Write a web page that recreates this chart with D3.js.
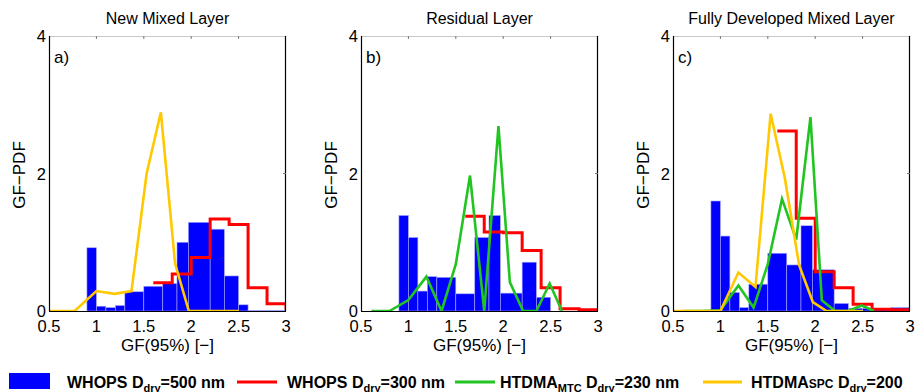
<!DOCTYPE html>
<html>
<head>
<meta charset="utf-8">
<script src="https://cdn.jsdelivr.net/npm/d3@7"></script>
<style>
  body { margin: 0; background: #fff; }
  text { font-family: Arial, "Liberation Sans", sans-serif; }
</style>
</head>
<body>
<svg id="chart" width="915" height="392"></svg>
<script>
// ---------------------------------------------------------------------------
// Data

var titles = ["New Mixed Layer", "Residual Layer", "Fully Developed Mixed Layer"];
var panelLabels = ["a)", "b)", "c)"];
var xTicks = [0.5, 1, 1.5, 2, 2.5, 3];
var yTicks = [0, 2, 4];

// WHOPS Ddry=500 nm histogram (bin edges shared by all panels)
var binEdges = [0.9, 1.0, 1.1, 1.2, 1.3, 1.5, 1.7, 1.85, 1.97, 2.2, 2.35, 2.5, 2.6, 2.8, 3.0];
var whops500A = [0.92, 0.07, 0.05, 0.08, 0.28, 0.36, 0.40, 1.00, 1.29, 1.19, 0.51, 0.09, 0.01, 0.01];
var whops500B = [1.39, 1.07, 0.29, 0.50, 0.49, 0.25, 1.07, 1.39, 0.26, 0.71, 0.20, 0, 0, 0];
var whops500C = [1.60, 1.09, 0.27, 0.05, 0.39, 0.84, 0.67, 1.24, 0.60, 0.11, 0.04, 0.04, 0.02, 0.05];

// WHOPS Ddry=300 nm stairs
var stairX = [1.6, 1.8, 2.0, 2.2, 2.4, 2.6, 2.8, 3.0];
var whops300A = [0.41, 0.54, 0.78, 1.34, 1.26, 0.34, 0.107, 0.02];
var whops300B = [1.38, 1.15, 1.14, 0.88, 0.34, 0.034, 0.02, 0.02];
var whops300C = [2.62, 1.35, 0.57, 0.34, 0.10, 0.024, 0.02, 0.02];

// HTDMA MTC Ddry=230 nm
var mtcX = [0.61, 0.8, 1.0, 1.19, 1.35, 1.5, 1.65, 1.8, 1.95, 2.07, 2.21, 2.35, 2.49, 2.62];
var mtcB = [0, 0, 0.16, 0.50, 0, 0.68, 1.97, 0, 2.69, 0.42, 0, 0, 0.40, 0];
var mtcC = [0, 0, 0.01, 0.37, 0.05, 0.68, 1.63, 1.04, 2.82, 0.155, 0, 0, 0.08, 0];

// HTDMA SPC Ddry=200 nm
var spcX = [0.5, 0.77, 1.0, 1.19, 1.37, 1.53, 1.68, 1.83, 1.975, 2.12, 2.28, 2.5];
var spcA = [0, 0, 0.29, 0.25, 0.29, 2.0, 2.89, 0.69, 0, 0, 0, 0];
var spcC = [0, 0, 0, 0.56, 0.35, 2.87, 1.93, 0.67, 0.13, 0, 0, 0];

var BLUE = "#0000ff", RED = "#ff0000", GREEN = "#22c422", YELLOW = "#ffc800";

var panels = [
    { bars: whops500A, stairs: whops300A, mtc: null, spc: spcA },
    { bars: whops500B, stairs: whops300B, mtc: mtcB, spc: null },
    { bars: whops500C, stairs: whops300C, mtc: mtcC, spc: spcC }
];

// ---------------------------------------------------------------------------
// Layout

var svg = d3.select("#chart");
var panelLeft = [49, 361, 673];
var pw = 237, plotTop = 36, plotBottom = 311;

var yScale = d3.scaleLinear().domain([0, 4]).range([plotBottom, plotTop]);

function pairs(xs, ys) {
    return xs.map(function(x, i) { return [x, ys[i]]; });
}

panels.forEach(function(p, i) {
    var x0 = panelLeft[i];
    var xScale = d3.scaleLinear().domain([0.5, 3]).range([x0, x0 + pw]);
    var g = svg.append("g");

    g.append("clipPath").attr("id", "clip" + i)
        .append("rect").attr("x", x0).attr("y", plotTop).attr("width", pw).attr("height", plotBottom - plotTop);

    var plot = g.append("g").attr("clip-path", "url(#clip" + i + ")");

    // histogram bars
    plot.selectAll("rect.bar")
        .data(p.bars)
        .enter()
        .append("rect")
        .attr("class", "bar")
        .attr("x", function(d, k) { return xScale(binEdges[k]); })
        .attr("width", function(d, k) { return xScale(binEdges[k + 1]) - xScale(binEdges[k]); })
        .attr("y", function(d) { return yScale(d); })
        .attr("height", function(d) { return plotBottom - yScale(d); })
        .attr("fill", BLUE)
        .attr("stroke", "#a8a8ff")
        .attr("stroke-width", 0.6);

    var line = d3.line()
        .x(function(d) { return xScale(d[0]); })
        .y(function(d) { return yScale(d[1]); });

    plot.append("path")
        .attr("d", line.curve(d3.curveStepAfter)(pairs(stairX, p.stairs)))
        .attr("fill", "none").attr("stroke", RED).attr("stroke-width", 3);

    line.curve(d3.curveLinear);
    if (p.mtc) {
        plot.append("path")
            .attr("d", line(pairs(mtcX, p.mtc)))
            .attr("fill", "none").attr("stroke", GREEN).attr("stroke-width", 2.6);
    }
    if (p.spc) {
        plot.append("path")
            .attr("d", line(pairs(spcX, p.spc)))
            .attr("fill", "none").attr("stroke", YELLOW).attr("stroke-width", 2.6);
    }

    // frame: top in light grey, others black
    g.append("line").attr("x1", x0).attr("x2", x0 + pw).attr("y1", plotTop + 0.5).attr("y2", plotTop + 0.5)
        .attr("stroke", "#c8c8c8");
    g.append("line").attr("x1", x0 + pw - 0.5).attr("x2", x0 + pw - 0.5).attr("y1", plotTop).attr("y2", plotBottom)
        .attr("stroke", "#000").attr("stroke-width", 1.2);
    g.append("line").attr("x1", x0 + 0.5).attr("x2", x0 + 0.5).attr("y1", plotTop).attr("y2", plotBottom)
        .attr("stroke", "#000").attr("stroke-width", 1.2);
    g.append("line").attr("x1", x0).attr("x2", x0 + pw).attr("y1", plotBottom + 0.5).attr("y2", plotBottom + 0.5)
        .attr("stroke", "#000").attr("stroke-width", 1.2);

    // inward ticks on top and right
    g.selectAll("line.xt").data(xTicks.slice(1, -1)).enter().append("line")
        .attr("x1", function(d) { return xScale(d); }).attr("x2", function(d) { return xScale(d); })
        .attr("y1", plotTop).attr("y2", plotTop + 3).attr("stroke", "#777");
    g.selectAll("line.yt").data(yTicks.slice(1, -1)).enter().append("line")
        .attr("x1", x0 + pw).attr("x2", x0 + pw - 3)
        .attr("y1", function(d) { return yScale(d); }).attr("y2", function(d) { return yScale(d); })
        .attr("stroke", "#777");

    // tick labels
    g.selectAll("text.xl").data(xTicks).enter().append("text")
        .attr("x", function(d) { return xScale(d); })
        .attr("y", plotBottom + 21)
        .attr("text-anchor", "middle")
        .attr("font-size", 16.5)
        .text(function(d) { return d; });
    g.selectAll("text.yl").data(yTicks).enter().append("text")
        .attr("x", x0 - 3)
        .attr("y", function(d) { return yScale(d) + 6; })
        .attr("text-anchor", "end")
        .attr("font-size", 16.5)
        .text(function(d) { return d; });

    // titles and labels
    g.append("text").attr("x", x0 + pw / 2).attr("y", 24)
        .attr("text-anchor", "middle").attr("font-size", 16).text(titles[i]);
    g.append("text").attr("x", x0 + pw / 2).attr("y", 351)
        .attr("text-anchor", "middle").attr("font-size", 17).text("GF(95%) [\u2212]");
    g.append("text")
        .attr("transform", "translate(" + (x0 - 24) + "," + 175 + ") rotate(-90)")
        .attr("text-anchor", "middle").attr("font-size", 17).text("GF\u2212PDF");
    g.append("text").attr("x", x0 + 5).attr("y", 63)
        .attr("font-size", 17).text(panelLabels[i]);
});

// ---------------------------------------------------------------------------
// Legend

var legY = 382;
var leg = svg.append("g").attr("font-weight", "bold").attr("font-size", 16);

leg.append("rect").attr("x", 9).attr("y", 373).attr("width", 41).attr("height", 16).attr("fill", BLUE);
leg.append("line").attr("x1", 237).attr("x2", 277).attr("y1", legY).attr("y2", legY)
    .attr("stroke", RED).attr("stroke-width", 3);
leg.append("line").attr("x1", 455).attr("x2", 495).attr("y1", legY).attr("y2", legY)
    .attr("stroke", GREEN).attr("stroke-width", 3);
leg.append("line").attr("x1", 703).attr("x2", 742).attr("y1", legY).attr("y2", legY)
    .attr("stroke", YELLOW).attr("stroke-width", 3);

function legendText(x, parts) {
    var t = leg.append("text").attr("x", x).attr("y", 388);
    parts.forEach(function(pt) {
        var s = t.append("tspan").text(pt[0]);
        if (pt[1] === "sub") s.attr("font-size", 11).attr("dy", 4);
        if (pt[1] === "small") s.attr("font-size", 12);
        if (pt[1] === "up") s.attr("dy", -4);
    });
}
legendText(67, [["WHOPS D"], ["dry", "sub"], ["=500 nm", "up"]]);
legendText(287, [["WHOPS D"], ["dry", "sub"], ["=300 nm", "up"]]);
legendText(500, [["HTDMA"], ["MTC", "sub"], [" D", "up"], ["dry", "sub"], ["=230 nm", "up"]]);
legendText(751, [["HTDMA"], ["SPC", "small"], [" D"], ["dry", "sub"], ["=200", "up"]]);
</script>
</body>
</html>
